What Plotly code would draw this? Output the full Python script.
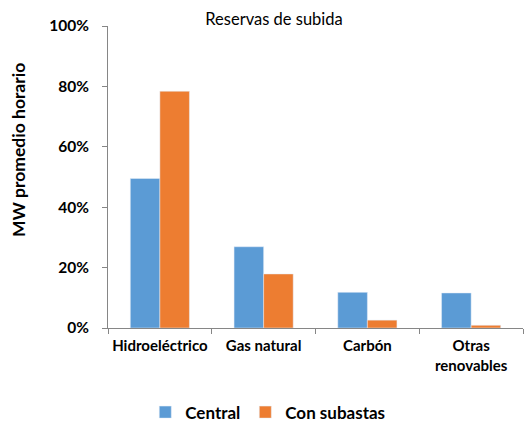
import plotly.graph_objects as go

categories = ["Hidroeléctrico", "Gas natural", "Carbón", "Otras<br>renovables"]
central = [0.495, 0.269, 0.118, 0.116]
con_subastas = [0.784, 0.179, 0.026, 0.009]
y_ticks = [0, 0.2, 0.4, 0.6, 0.8, 1.0]

FONT = "Lato"
fig = go.Figure()
fig.add_trace(go.Bar(name="Central", x=categories, y=central, marker_color="#5B9BD5"))
fig.add_trace(go.Bar(name="Con subastas", x=categories, y=con_subastas, marker_color="#ED7D31"))

fig.update_layout(
    width=524, height=424,
    margin=dict(l=108, r=1, t=26, b=96, autoexpand=False),
    plot_bgcolor="white", paper_bgcolor="white",
    barmode="group", bargap=0.43, bargroupgap=0,
    font=dict(family=FONT, color="#000000"),
    title=dict(text="Reservas de subida", x=274/524, xanchor="center",
               y=1-19/424, yanchor="middle", font=dict(family=FONT, size=16.5)),
    legend=dict(orientation="h", x=0.385, xanchor="center", y=-0.28, yanchor="middle",
                font=dict(family=FONT, size=17, weight="bold"), traceorder="normal",
                itemwidth=30),
    showlegend=True,
    annotations=[dict(text="<b>MW promedio horario</b>", xref="paper", yref="paper",
                      x=-(108-18)/415, y=(328-150)/302, textangle=-90,
                      showarrow=False, xanchor="center", yanchor="middle",
                      font=dict(family=FONT, size=17.5))],
)
fig.update_yaxes(range=[0, 1.0], tickvals=y_ticks, tickformat=".0%",
                 showgrid=False, showline=True, linecolor="#868686", linewidth=1,
                 ticks="outside", ticklen=5, tickcolor="#868686", ticklabelstandoff=10,
                 tickfont=dict(family=FONT, size=15.5, weight="bold"),
                 zeroline=False, automargin=False)
fig.update_xaxes(showline=True, linecolor="#868686", linewidth=1,
                 ticks="outside", ticklen=5, tickcolor="#868686", tickson="boundaries",
                 ticklabelstandoff=4, automargin=False, tickangle=0,
                 tickfont=dict(family=FONT, size=15, weight="bold"))

fig.write_html("out.html", config={"displayModeBar": False},
               post_script="document.body.style.margin='0';")
